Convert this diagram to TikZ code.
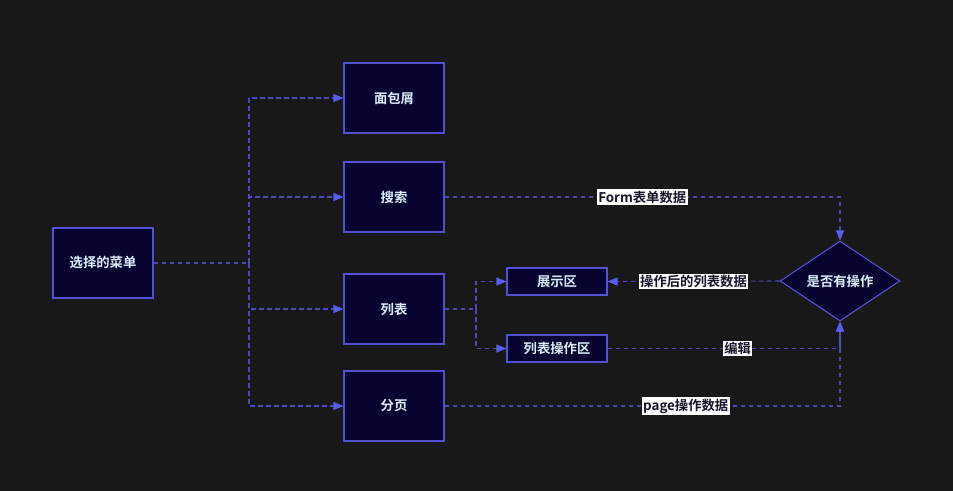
\documentclass[tikz,border=0pt]{standalone}
\usepackage{fontspec}
\setmainfont{Noto Sans CJK SC}[BoldFont={Noto Sans CJK SC Bold}]
\usetikzlibrary{shapes.geometric,arrows.meta}
\definecolor{bg}{HTML}{181818}
\definecolor{boxfill}{HTML}{070530}
\definecolor{boxline}{HTML}{5550D0}
\definecolor{conn}{HTML}{4C49B8}
\definecolor{tip}{HTML}{5B5CF0}
\definecolor{txt}{HTML}{DCEEFA}
\definecolor{lbltxt}{HTML}{151528}
\tikzset{
  box/.style={draw=boxline, fill=boxfill, line width=0.8pt, text=txt, font=\bfseries\fontsize{10}{12}\selectfont, minimum width=75pt, minimum height=52.5pt, inner sep=0pt},
  smallbox/.style={box, minimum height=20.25pt},
  decision/.style={diamond, draw=boxline, fill=boxfill, line width=0.8pt, text=txt, font=\bfseries\fontsize{10}{12}\selectfont, minimum width=90pt, minimum height=60pt, inner sep=0pt},
  link/.style={draw=conn, line width=0.8pt, dash pattern=on 3.5pt off 2.5pt},
  arr/.style={link, -{Triangle[length=7.5pt,width=6pt,color=tip,fill=tip]}},
  lbl/.style={fill=white, text=lbltxt, font=\bfseries\fontsize{10}{12}\selectfont, inner sep=1pt}
}
\begin{document}
\begin{tikzpicture}[x=0.75pt,y=-0.75pt]
\useasboundingbox[fill=bg] (0,0) rectangle (953,491);
\node[box] (menu) at (103,263) {选择的菜单};
\node[box] (crumb) at (394,98) {面包屑};
\node[box] (search) at (394,197) {搜索};
\node[box] (list) at (394,309) {列表};
\node[box] (page) at (394,406) {分页};
\node[smallbox] (show) at (557,281.5) {展示区};
\node[smallbox] (op) at (557,348.5) {列表操作区};
\node[decision] (dia) at (840,281) {是否有操作};
\coordinate (trunk) at (249,263);
\coordinate (lb) at (476,309);
\draw[link] (menu.east) -- (trunk);
\draw[arr] (trunk) |- (crumb.west);
\draw[arr] (trunk) |- (search.west);
\draw[arr] (trunk) |- (list.west);
\draw[arr] (trunk) |- (page.west);
\draw[link] (list.east) -- (lb);
\draw[arr] (lb) |- (show.west);
\draw[arr] (lb) |- (op.west);
\draw[arr] (search.east) -| (dia.north) node[lbl, pos=0.25] {Form表单数据};
\draw[arr] (dia.west) -- (show.east) node[lbl, midway] {操作后的列表数据};
\draw[arr] (op.east) -| (dia.south) node[lbl, pos=0.28] {编辑};
\draw[arr] (page.east) -| (dia.south) node[lbl, pos=0.305] {page操作数据};
\end{tikzpicture}
\end{document}
